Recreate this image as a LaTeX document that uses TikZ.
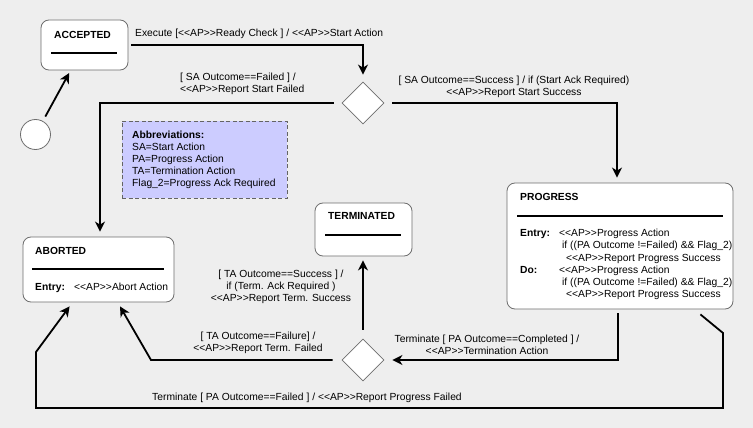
\documentclass[tikz,border=0pt]{standalone}
\usepackage{fontspec}
\setmainfont{Liberation Sans}
\usetikzlibrary{shapes.geometric,arrows.meta,calc}
\definecolor{bg}{RGB}{238,238,238}
\definecolor{boxborder}{RGB}{110,110,110}
\definecolor{abbrfill}{RGB}{204,204,255}
\definecolor{abbrborder}{RGB}{100,100,100}
\newcommand{\lf}{\fontsize{10.3}{12}\selectfont}
\newcommand{\AP}{<\kern0pt<AP>\kern0pt>}
\begin{document}
\begin{tikzpicture}[x=1pt,y=-1pt,
  stbox/.style={draw=boxborder, line width=0.8pt, fill=white, rounded corners=8pt, inner sep=0pt},
  choice/.style={diamond, draw=boxborder, line width=0.8pt, fill=white, minimum width=42pt, minimum height=42pt, inner sep=0pt, aspect=1},
  initst/.style={circle, draw=boxborder, line width=0.8pt, fill=white, minimum size=30pt, inner sep=0pt},
  arr/.style={line width=1.8pt, -{Stealth[length=10pt,width=10pt,inset=3pt]}},
  txt/.style={inner sep=0pt, font=\lf, align=center},
  ttl/.style={inner sep=0pt, font=\lf\bfseries, anchor=base west},
  entry/.style={inner sep=0pt, font=\lf, anchor=base west},
  divline/.style={line width=1.1pt},
  ]
\fill[bg] (0,0) rectangle (753,428);
\useasboundingbox (0,0) rectangle (753,428);

% nodes
\node[initst] (init) at (35.5,134.5) {};
\node[stbox, minimum width=87pt, minimum height=50pt] (acc) at (84.5,45) {};
\node[stbox, minimum width=151pt, minimum height=65pt] (abo) at (98.5,269.5) {};
\node[stbox, minimum width=97pt, minimum height=53pt] (ter) at (363.5,229.5) {};
\node[stbox, minimum width=226pt, minimum height=126pt] (pro) at (620,246) {};
\node[choice] (d1) at (363,103) {};
\node[choice] (d2) at (363,360) {};
\node[draw=abbrborder, dashed, dash pattern=on 4pt off 2.5pt, fill=abbrfill, line width=0.8pt, minimum width=165pt, minimum height=77pt, inner sep=0pt] (abbr) at (204.5,159.5) {};

% state contents
\node[ttl] (accT) at (54,38.7) {ACCEPTED};
\draw[divline] (51,53) -- (117,53);

\node[ttl] (aboT) at (35,254.7) {ABORTED};
\draw[divline] (32,269) -- (164,269);
\node[ttl] (aboE) at (35,290.7) {Entry:};
\node[entry] (aboE1) at (74,290.7) {\AP Abort Action};

\node[ttl] (terT) at (328,219.7) {TERMINATED};
\draw[divline] (325,235) -- (401,235);

\node[ttl] (proT) at (520,200.7) {PROGRESS};
\draw[divline] (517,216) -- (723,216);
\node[ttl] (proE) at (520,236.7) {Entry:};
\node[entry] (proE1) at (559,236.7) {\AP Progress Action};
\node[entry] (proE2) at (562,248.7) {if ((PA Outcome !=Failed) \&\& Flag\_2)};
\node[entry] (proE3) at (566,261.2) {\AP Report Progress Success};
\node[ttl] (proD) at (520,273.7) {Do:};
\node[entry] (proD1) at (559,273.7) {\AP Progress Action};
\node[entry] (proD2) at (562,285.7) {if ((PA Outcome !=Failed) \&\& Flag\_2)};
\node[entry] (proD3) at (566,297.7) {\AP Report Progress Success};

\node[txt, align=left, anchor=north west] (abbrT) at (132,131.2)
  {\textbf{Abbreviations:}\\SA=Start Action\\PA=Progress Action\\TA=Termination Action\\Flag\_2=Progress Ack Required};

% connectors
\draw[arr, shorten <=5pt, shorten >=3pt] (init) -- (acc);
\draw[arr, shorten >=7pt] ([xshift=3pt]acc.east) -| (d1.north);
\draw[arr, shorten <=8pt, shorten >=5pt] (d1.west) -| ([xshift=1.5pt]abo.north);
\draw[arr, shorten <=8pt, shorten >=5pt] (d1.east) -| ([xshift=-3pt]pro.north);
\draw[arr, shorten <=4pt, shorten >=8pt] ([xshift=-2pt]pro.south) |- (d2.east);
\draw[arr, shorten <=9pt, shorten >=4pt] (d2.north) -- (d2.north |- ter.south);
\coordinate (b1) at (151,360);
\draw[arr, shorten <=9pt] (d2.west) -- (b1) -- ([shift={(21.5pt,-4pt)}]abo.south);
\coordinate (c1) at (723,333);
\coordinate (c2) at (723,408);
\coordinate (c3) at (36,408);
\coordinate (c4) at (36,352);
\draw[arr] ([shift={(-33pt,-5pt)}]pro.south east) -- (c1) -- (c2) -- (c3) -- (c4) -- ([shift={(47pt,-4pt)}]abo.south west);

% labels
\node[txt, anchor=west] (l1) at (135,34) {Execute [\AP Ready Check ] / \AP Start Action};
\node[txt, align=left, anchor=north west] (l2) at (180,73.2) {[ SA Outcome==Failed ] /\\\AP Report Start Failed};
\node[txt, anchor=north] (l3) at (514,76.2) {[ SA Outcome==Success ] / if (Start Ack Required)\\\AP Report Start Success};
\node[txt, anchor=north] (l4) at (281,270.2) {[ TA Outcome==Success ] /\\if (Term. Ack Required )\\\AP Report Term. Success};
\node[txt, anchor=north] (l5) at (258,332.2) {[ TA Outcome==Failure] /\\\AP Report Term. Failed};
\node[txt, anchor=north] (l6) at (487,335.2) {Terminate [ PA Outcome==Completed ] /\\\AP Termination Action};
\node[txt, anchor=west] (l7) at (152,398) {Terminate [ PA Outcome==Failed ] / \AP Report Progress Failed};
\end{tikzpicture}
\end{document}
